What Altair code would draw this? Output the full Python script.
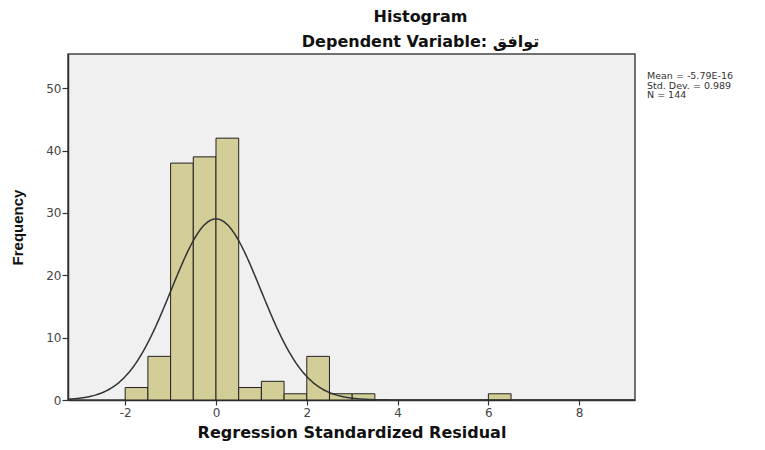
import altair as alt
import pandas as pd

# ---- data ----
bin_starts = [-2.0, -1.5, -1.0, -0.5, 0.0, 0.5, 1.0, 1.5, 2.0, 2.5, 3.0, 6.0]
counts = [2, 7, 38, 39, 42, 2, 3, 1, 7, 1, 1, 1]
bin_width = 0.5
mean = -5.79e-16
std_dev = 0.989
n_total = 144
stats_lines = ["Mean = -5.79E-16", "Std. Dev. = 0.989", "N = 144"]
x_ticks = [-2, 0, 2, 4, 6, 8]
y_ticks = [0, 10, 20, 30, 40, 50]
x_domain = [-3.26, 9.23]
y_domain = [0, 55.5]

bars_df = pd.DataFrame({"start": bin_starts, "count": counts})
bars_df["end"] = bars_df["start"] + bin_width

xs = alt.Scale(domain=x_domain, nice=False, zero=False)
ys = alt.Scale(domain=y_domain, nice=False)

bars = alt.Chart(bars_df).mark_rect(
    fill="#d3ce97", stroke="#222222", strokeWidth=1
).encode(
    x=alt.X("start:Q", scale=xs,
            axis=alt.Axis(values=x_ticks, title="Regression Standardized Residual",
                          titlePadding=6, labelPadding=2, tickSize=5,
                          labelExpr="replace(datum.label, '−', '-')")),
    x2="end:Q",
    y=alt.Y("count:Q", scale=ys,
            axis=alt.Axis(values=y_ticks, title="Frequency", tickSize=6, labelPadding=1,
                          titlePadding=20, titleFont="Liberation Sans", titleFontSize=15)),
    y2=alt.datum(0),
)

curve = alt.Chart(
    alt.sequence(x_domain[0], x_domain[1] + 0.01, 0.02, as_="x")
).transform_calculate(
    y=f"{n_total * bin_width} * exp(-0.5 * pow((datum.x - ({mean})) / {std_dev}, 2)) / ({std_dev} * sqrt(2 * PI))"
).mark_line(color="#333333", strokeWidth=1.5, clip=True).encode(
    x=alt.X("x:Q", scale=xs),
    y=alt.Y("y:Q", scale=ys),
)

stats = alt.Chart(pd.DataFrame({"k": [0]})).mark_text(
    align="left", baseline="top", font="DejaVu Sans", fontSize=9.5,
    lineHeight=9.5, color="#333333", clip=False
).encode(
    x=alt.value(579),
    y=alt.value(17),
    text=alt.value(stats_lines),
)

chart = alt.layer(bars, curve, stats).properties(
    width=567,
    height=346,
    background="white",
    padding={"left": 60, "top": 46, "right": 122, "bottom": 46},
    autosize=alt.AutoSizeParams(type="none"),
    title=alt.Title(
        "Histogram",
        subtitle="Dependent Variable: توافق",
        anchor="middle", dx=69, offset=4,
        font="DejaVu Sans", fontSize=16, fontWeight="bold", color="#111111",
        subtitleFont="DejaVu Sans", subtitleFontSize=16, subtitleFontWeight="bold",
        subtitleColor="#111111", subtitlePadding=9,
    ),
).configure_view(
    stroke="#444444", strokeWidth=1.5, fill="#f0f0f0"
).configure_axis(
    grid=False,
    labelFont="DejaVu Sans", labelFontSize=12, labelColor="#444444",
    tickColor="#333333", domainColor="#333333", domainWidth=1.5, tickWidth=1.2,
    titleFont="DejaVu Sans", titleFontSize=16, titleFontWeight="bold", titleColor="#111111",
)

chart.save("out.html", embed_options={"renderer": "svg", "actions": False})
